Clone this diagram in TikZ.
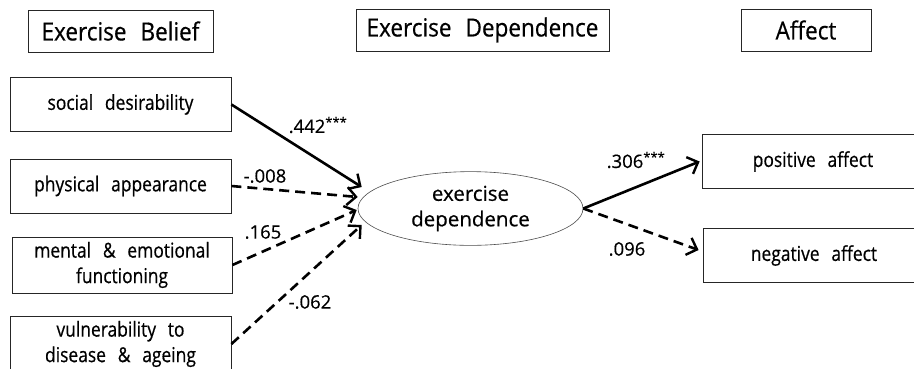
\documentclass[tikz,border=0pt]{standalone}
\usepackage{fontspec}
\setmainfont{Open Sans}[WordSpace=2.6,FakeStretch=0.85,FakeBold=0.5]
\newfontfamily\hdfont{Open Sans}[WordSpace=2.4,FakeStretch=0.9,FakeBold=0.5]
\newfontfamily\lvfont{Open Sans}[FakeBold=0.5]
\usetikzlibrary{shapes.geometric,arrows.meta}
\tikzset{
    HD/.style ={rectangle,minimum width=#1,minimum height=42pt,draw=black!85,line width=0.8pt,font=\hdfont\fontsize{25pt}{28pt}\selectfont},
    VB/.style ={rectangle,minimum width=#1,minimum height=54pt,draw=black!85,line width=0.8pt,align=center,inner sep=2pt},
    LV/.style ={ellipse,minimum width=225pt,minimum height=67pt,draw=black!70,line width=0.6pt,align=center,font=\lvfont\fontsize{20.5pt}{25.5pt}\selectfont},
    SA/.style ={line width=2.6pt,-{Straight Barb[length=9pt,width=18pt,line width=2.4pt]}},
    DA/.style ={SA,dash pattern=on 10pt off 6pt},
    CF/.style ={inner sep=0pt,font=\lvfont\fontsize{18.5pt}{22pt}\selectfont}}

\begin{document}
\begin{tikzpicture}
        [x=1pt,y=-1pt,every node/.append style={font=\fontsize{20.5pt}{25.5pt}\selectfont}]
    \clip (0,0) rectangle (914,368);
    \useasboundingbox (0,0) rectangle (914,368);
    % column headings
    \node[HD=185pt](eb) at(120.5,31){Exercise Belief};
    \node[HD=253pt](ed) at(482.5,30){Exercise Dependence};
    \node[HD=130pt](af) at(806,30){Affect};
    % beliefs
    \node[VB=221pt](sd) at(120.5,104.5){social desirability};
    \node[VB=221pt](pa) at(120.5,186){physical appearance};
    \node[VB=220pt,minimum height=56pt](me) at(122,265){mental \& emotional\\functioning};
    \node[VB=221pt,minimum height=56pt](vd) at(120.5,344){vulnerability to\\disease \& ageing};
    % mediator and outcomes
    \node[LV](dep) at(470.5,208.5){exercise\\dependence};
    \node[VB=222pt](pos) at(813,161.5){positive affect};
    \node[VB=222pt](neg) at(814,255.5){negative affect};
    \draw[SA] (sd.east) -- ([shift={(4,-21.5)}]dep.west);
    \draw[DA] (pa.east) -- ([shift={(0,-11.5)}]dep.west);
    \draw[DA] (me.east) -- ([shift={(-1,1.5)}]dep.west);
    \draw[DA] (vd.east) -- ([shift={(4,16.5)}]dep.west);
    \draw[SA] (dep.east) -- ([xshift=-2pt]pos.west);
    \draw[DA] (dep.east) -- ([shift={(-4,-5.5)}]neg.west);
    % path coefficients
    \node[CF](c1) at(318,125){.442\textsuperscript{***}};
    \node[CF](c2) at(265,176){-.008};
    \node[CF](c3) at(263,232){.165};
    \node[CF](c4) at(310,302){-.062};
    \node[CF](c5) at(636,160){.306\textsuperscript{***}};
    \node[CF](c6) at(627,249){.096};
\end{tikzpicture}
\end{document}
